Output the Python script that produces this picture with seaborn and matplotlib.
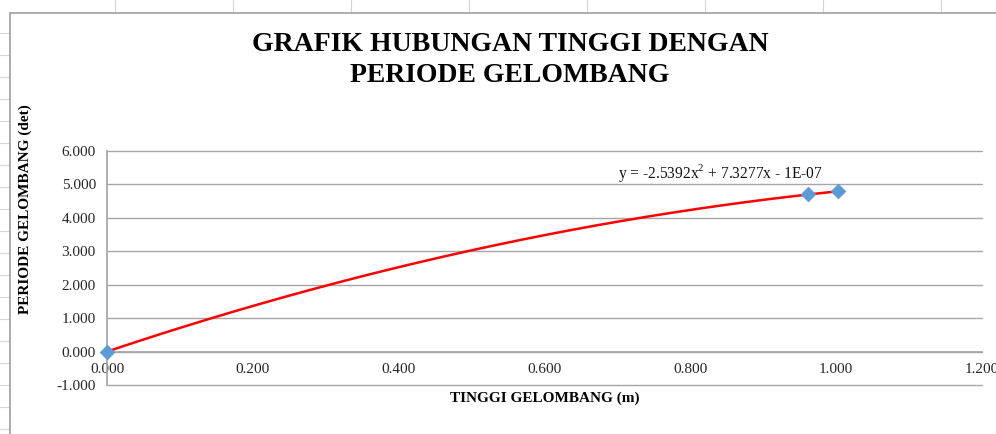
import numpy as np
import pandas as pd
import matplotlib
matplotlib.use("Agg")
import matplotlib.pyplot as plt
from matplotlib.lines import Line2D
import seaborn as sns

# ---- data ----
tinggi = [0.000, 0.962, 1.003]          # TINGGI GELOMBANG (m)
periode = [0.000, 4.700, 4.796]         # PERIODE GELOMBANG (det)
trend_coef = [-2.5392, 7.3277, -1e-07]  # y = a x^2 + b x + c
x_ticks = [0.0, 0.2, 0.4, 0.6, 0.8, 1.0, 1.2]
y_ticks = [-1, 0, 1, 2, 3, 4, 5, 6]
title = "GRAFIK HUBUNGAN TINGGI DENGAN\nPERIODE GELOMBANG"
xlabel = "TINGGI GELOMBANG (m)"
ylabel = "PERIODE GELOMBANG (det)"
eq_label = "y = -2.5392x$^{2}$ + 7.3277x - 1E-07"

sns.set_theme(style="white")
plt.rcParams['font.family'] = ['Liberation Serif', 'DejaVu Serif']
plt.rcParams['mathtext.fontset'] = 'custom'
plt.rcParams['mathtext.rm'] = 'Liberation Serif'
plt.rcParams['text.color'] = '#111111'

W, H = 996, 434
fig = plt.figure(figsize=(W / 100, H / 100), dpi=100)

# spreadsheet background lines
grid_c = "#D4D4D4"
for gx in range(115, 996, 118):
    fig.add_artist(Line2D([gx / W, gx / W], [1, 1 - 13 / H], color=grid_c, lw=0.8))
for gy in range(33, 434, 22):
    fig.add_artist(Line2D([0, 10 / W], [1 - gy / H, 1 - gy / H], color=grid_c, lw=0.8))
# chart area border
fig.add_artist(Line2D([10 / W, 10 / W], [0, 1 - 13 / H], color="#A0A0A0", lw=1.2))
fig.add_artist(Line2D([10 / W, 1], [1 - 13 / H, 1 - 13 / H], color="#A0A0A0", lw=1.2))

ax = fig.add_axes([107 / W, 1 - 385 / H, (982 - 107) / W, (385 - 151) / H])

df = pd.DataFrame({"x": tinggi, "y": periode})
xs = np.linspace(min(tinggi), max(tinggi), 200)
ys = np.polyval(trend_coef, xs)
tdf = pd.DataFrame({"x": xs, "y": ys})

sns.lineplot(data=tdf, x="x", y="y", ax=ax, color="#FF0000", lw=1.8, zorder=3)
sns.scatterplot(data=df, x="x", y="y", ax=ax, marker="D", s=55, color="#5B9BD5",
                edgecolor="#5B9BD5", zorder=4, clip_on=False)

ax.set_xlim(0, 1.2)
ax.set_ylim(-1, 6)
ax.set_xticks(x_ticks)
ax.set_yticks(y_ticks)
ax.set_xticklabels([f"{v:.3f}" for v in x_ticks])
ax.set_yticklabels([f"{v:.3f}" for v in y_ticks])
ax.tick_params(axis="both", length=0, labelsize=11, colors="#262626")
ax.tick_params(axis="x", pad=8)
ax.tick_params(axis="y", pad=8)
ax.grid(axis="y", color="#A6A6A6", lw=1.0)
ax.grid(axis="x", visible=False)
for gl in ax.get_ygridlines():
    gl.set_clip_on(False)
for s in ["top", "right"]:
    ax.spines[s].set_visible(False)
ax.spines["bottom"].set_position(("data", 0))
ax.spines["bottom"].set_color("#A6A6A6")
ax.spines["left"].set_color("#A6A6A6")
ax.set_xlabel("")
ax.set_ylabel("")

fig.text(510 / W, 1 - 60 / H, title, ha="center", va="center", fontsize=20,
         fontweight="bold", linespacing=1.3, color="black")
fig.text(545 / W, 1 - 398 / H, xlabel, ha="center", va="center", fontsize=11,
         fontweight="bold", color="black")
fig.text(25 / W, 1 - 209 / H, ylabel, ha="center", va="center", fontsize=11,
         fontweight="bold", rotation=90, color="black")
fig.text(720 / W, 1 - 173 / H, eq_label, ha="center", va="center", fontsize=11.2)

fig.savefig("out.png", dpi=100)
